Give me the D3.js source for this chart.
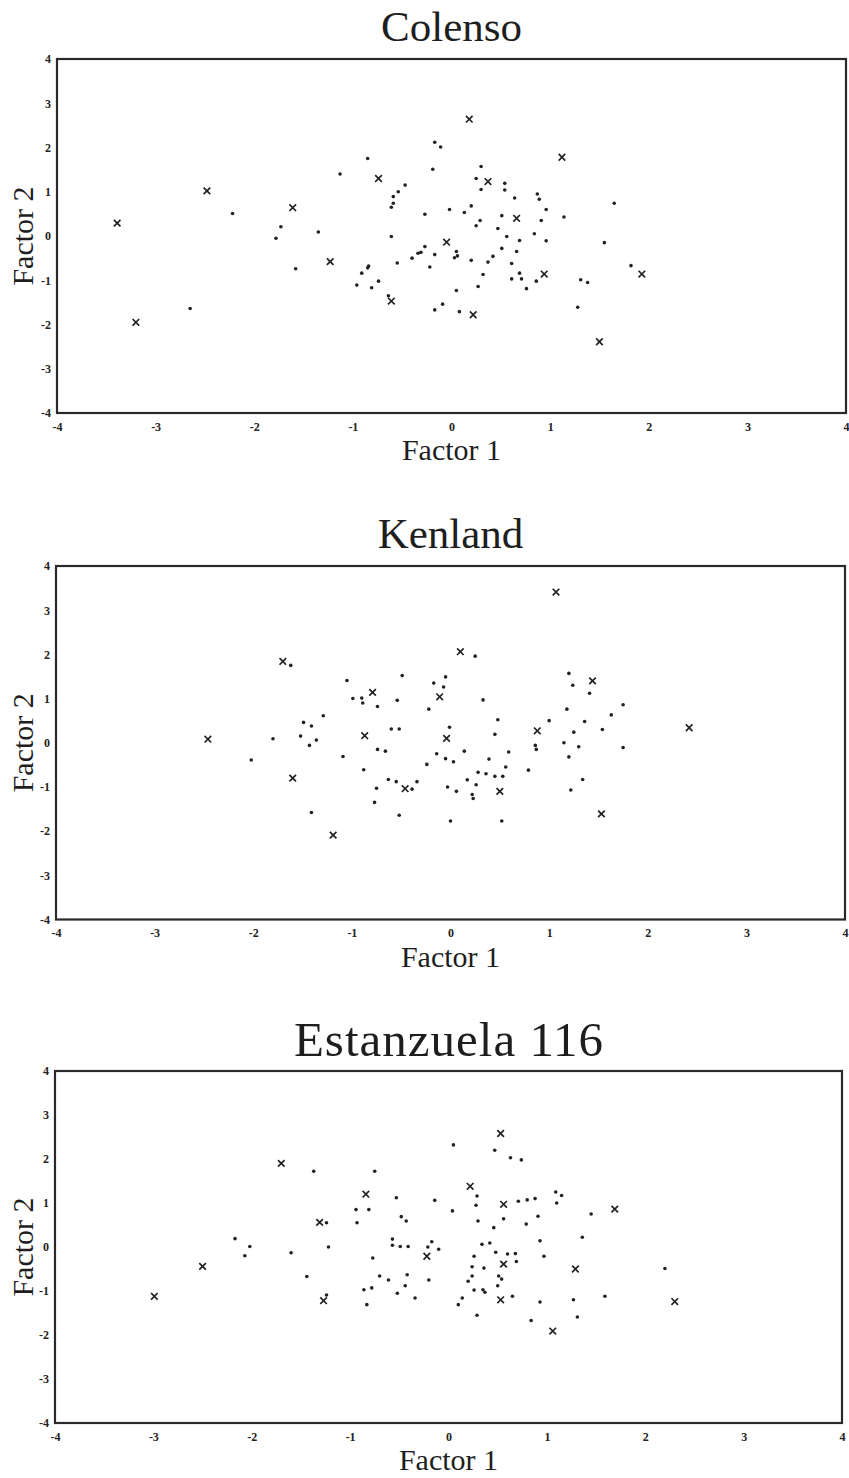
<!DOCTYPE html>
<html>
<head>
<meta charset="utf-8">
<script src="https://cdn.jsdelivr.net/npm/d3@7"></script>
<style>
  html, body { margin: 0; padding: 0; background: #fff; }
  svg { display: block; }
  .tick text { font-family: "Liberation Serif", "Times New Roman", serif; font-weight: bold; font-size: 12px; fill: #222; }
</style>
</head>
<body>
<svg id="chart" width="849" height="1478"></svg>
<script>
// ---------- DATA ----------
const panelTitles = ["Colenso", "Kenland", "Estanzuela 116"];
const xAxisLabel = "Factor 1";
const yAxisLabel = "Factor 2";
const tickValues = [-4, -3, -2, -1, 0, 1, 2, 3, 4];
const tickLabels = ["-4", "-3", "-2", "-1", "0", "1", "2", "3", "4"];

const colensoDots = [
  [-2.22,0.51],[-1.73,0.21],[-1.78,-0.05],[-2.65,-1.64],[-1.58,-0.74],[-1.35,0.09],[-1.13,1.40],[-0.85,1.75],
  [-0.61,0.65],[-0.59,0.74],[-0.59,0.89],[-0.54,1.00],[-0.47,1.15],[-0.61,-0.01],[-0.27,0.49],[-0.19,1.51],
  [-0.17,2.12],[-0.11,2.01],[-0.02,0.60],[0.13,0.53],[0.20,0.68],[0.30,1.57],[0.25,1.30],[0.30,1.05],
  [0.54,1.19],[0.54,1.04],[0.64,0.86],[0.29,0.35],[0.25,0.23],[0.51,0.46],[0.47,0.17],[0.56,-0.01],
  [0.87,0.95],[0.89,0.83],[0.96,0.60],[0.91,0.35],[0.84,0.05],[1.14,0.43],[1.65,0.74],[0.96,-0.11],
  [1.55,-0.15],[1.82,-0.67],[1.31,-0.99],[1.38,-1.05],[1.28,-1.61],
  [-0.27,-0.24],[-0.34,-0.39],[-0.31,-0.37],[-0.40,-0.50],[-0.17,-0.42],[0.05,-0.35],[0.03,-0.49],[0.06,-0.45],
  [0.20,-0.55],[-0.55,-0.61],[-0.22,-0.70],[-0.85,-0.72],[-0.84,-0.68],[-0.91,-0.84],[-0.74,-1.02],[-0.96,-1.11],
  [-0.81,-1.17],[-0.64,-1.35],[-0.09,-1.54],[-0.17,-1.67],[0.08,-1.71],[0.05,-1.23],[0.27,-1.14],[0.32,-0.87],
  [0.37,-0.59],[0.42,-0.46],[0.51,-0.28],[0.69,-0.10],[0.66,-0.35],[0.61,-0.62],[0.69,-0.84],[0.61,-0.97],
  [0.71,-0.97],[0.76,-1.19],[0.86,-1.02]
];
const colensoCrosses = [
  [-3.39,0.29],[-2.48,1.02],[-1.61,0.64],[-3.20,-1.95],[-0.74,1.30],[0.18,2.64],[0.37,1.23],[0.66,0.40],
  [1.12,1.78],[0.94,-0.86],[1.93,-0.86],[1.50,-2.39],[-1.23,-0.58],[-0.05,-0.14],[-0.61,-1.47],[0.22,-1.78]
];

const kenlandDots = [
  [-1.62,1.75],[-2.02,-0.39],[-1.80,0.09],[-1.49,0.46],[-1.41,0.38],[-1.29,0.61],[-1.52,0.15],[-1.43,-0.06],
  [-1.36,0.06],[-1.41,-1.58],[-1.05,1.41],[-0.99,1.00],[-0.90,1.01],[-0.89,0.90],[-0.74,0.82],[-1.09,-0.31],
  [-0.88,-0.61],[-0.74,-0.15],[-0.66,-0.19],[-0.60,0.31],[-0.52,0.31],[-0.54,0.96],[-0.49,1.52],[-0.75,-1.03],
  [-0.77,-1.35],[-0.63,-0.83],[-0.55,-0.88],[-0.39,-1.05],[-0.34,-0.88],[-0.52,-1.64],[-0.22,0.76],[-0.17,1.35],
  [-0.07,1.26],[-0.05,1.49],[-0.01,0.35],[-0.14,-0.25],[-0.05,-0.36],[-0.24,-0.49],[-0.03,-1.00],[0.00,-1.77],
  [0.25,1.96],[0.33,0.97],[0.03,-0.43],[0.14,-0.19],[0.06,-1.10],[0.17,-0.84],[0.26,-0.95],[0.22,-1.17],
  [0.23,-1.26],[0.28,-0.67],[0.36,-0.70],[0.45,-0.76],[0.53,-0.76],[0.39,-0.37],[0.52,-1.77],[0.56,-0.55],
  [0.59,-0.21],[0.45,0.19],[0.48,0.52],[0.79,-0.62],[0.86,-0.06],[0.87,-0.15],[1.00,0.50],[1.20,1.57],
  [1.24,1.30],[1.41,1.12],[1.18,0.76],[1.36,0.48],[1.25,0.24],[1.15,0.00],[1.30,-0.09],[1.20,-0.32],
  [1.34,-0.83],[1.22,-1.07],[1.54,0.30],[1.63,0.63],[1.75,0.86],[1.75,-0.11]
];
const kenlandCrosses = [
  [-2.46,0.08],[-1.70,1.84],[-1.60,-0.80],[-1.19,-2.09],[-0.79,1.14],[-0.87,0.16],[-0.46,-1.04],[-0.11,1.04],
  [-0.04,0.10],[1.07,3.41],[0.10,2.06],[0.50,-1.10],[0.88,0.27],[1.44,1.40],[1.53,-1.61],[2.42,0.34]
];

const estanzuelaDots = [
  [-2.17,0.19],[-2.02,0.01],[-2.07,-0.20],[-1.60,-0.13],[-1.44,-0.67],[-1.37,1.72],[-1.24,0.55],[-1.22,0.00],
  [-1.24,-1.09],[-0.94,0.85],[-0.93,0.55],[-0.81,0.85],[-0.75,1.72],[-0.77,-0.25],[-0.86,-0.97],[-0.78,-0.93],
  [-0.83,-1.31],[-0.70,-0.66],[-0.61,-0.75],[-0.53,1.12],[-0.48,0.69],[-0.43,0.59],[-0.57,0.18],[-0.57,0.04],
  [-0.49,0.01],[-0.41,0.01],[-0.42,-0.63],[-0.44,-0.88],[-0.52,-1.05],[-0.34,-1.16],[-0.21,0.00],[-0.17,0.12],
  [-0.10,-0.05],[-0.20,-0.75],[-0.14,1.06],
  [0.04,0.82],[0.05,2.32],[0.47,2.20],[0.63,2.03],[0.74,1.98],[0.29,1.16],[0.28,0.95],[0.30,0.59],
  [0.56,0.64],[0.46,0.44],[0.71,1.04],[0.80,1.07],[0.88,1.10],[0.79,0.52],[0.91,0.70],[1.09,1.25],
  [1.15,1.17],[1.10,1.00],[1.45,0.75],[1.36,0.22],[0.93,0.14],[0.97,-0.21],[0.34,0.06],[0.42,0.09],
  [0.48,-0.12],[0.60,-0.16],[0.68,-0.15],[0.69,-0.33],[0.26,-0.21],[0.24,-0.45],[0.36,-0.48],[0.24,-0.66],
  [0.20,-0.78],[0.26,-0.98],[0.35,-0.97],[0.37,-1.03],[0.51,-0.66],[0.54,-0.73],[0.50,-0.88],[0.65,-1.12],
  [0.14,-1.16],[0.10,-1.31],[0.29,-1.55],[0.84,-1.67],[0.93,-1.25],[1.27,-1.20],[1.31,-1.59],[1.59,-1.12],
  [2.20,-0.49]
];
const estanzuelaCrosses = [
  [-2.99,-1.12],[-2.50,-0.44],[-1.70,1.90],[-1.31,0.56],[-1.27,-1.22],[-0.84,1.20],[-0.22,-0.21],[0.53,2.58],
  [0.22,1.38],[0.56,0.97],[1.69,0.86],[0.56,-0.39],[0.53,-1.20],[1.06,-1.91],[1.29,-0.50],[2.30,-1.24]
];

// ---------- LAYOUT ----------
const panels = [
  { title: panelTitles[0], fs: 43, spacing: 0, gap: 18, dots: colensoDots, crosses: colensoCrosses, left: 57, right: 846, top: 59, bottom: 413 },
  { title: panelTitles[1], fs: 43, spacing: 0, gap: 18, dots: kenlandDots, crosses: kenlandCrosses, left: 56, right: 845, top: 566, bottom: 919.5 },
  { title: panelTitles[2], fs: 49, spacing: 1, gap: 15, dots: estanzuelaDots, crosses: estanzuelaCrosses, left: 55, right: 842, top: 1071, bottom: 1423 }
];

const svg = d3.select("#chart");
svg.append("rect").attr("width", 849).attr("height", 1478).attr("fill", "#fff");

const serif = '"Liberation Serif", "Times New Roman", serif';
const ink = "#1e1e1e";
const fmt = d => tickLabels[tickValues.indexOf(d)];

panels.forEach(p => {
  const x = d3.scaleLinear().domain([-4, 4]).range([p.left, p.right]);
  const y = d3.scaleLinear().domain([-4, 4]).range([p.bottom, p.top]);
  const g = svg.append("g");

  // title
  g.append("text")
    .attr("x", (p.left + p.right) / 2 + p.spacing / 2)
    .attr("y", p.top - p.gap)
    .attr("text-anchor", "middle")
    .attr("font-family", serif)
    .attr("font-size", p.fs)
    .attr("letter-spacing", p.spacing)
    .attr("fill", ink)
    .text(p.title);

  // x axis tick labels
  const xAxis = d3.axisBottom(x).tickValues(tickValues).tickSize(0).tickPadding(9).tickFormat(fmt);
  const gx = g.append("g").attr("transform", `translate(0,${p.bottom})`).call(xAxis);
  gx.select(".domain").remove();

  // y axis tick labels
  const yAxis = d3.axisLeft(y).tickValues(tickValues).tickSize(0).tickPadding(6).tickFormat(fmt);
  const gy = g.append("g").attr("transform", `translate(${p.left},0)`).call(yAxis);
  gy.select(".domain").remove();

  // frame
  g.append("rect")
    .attr("x", x(-4)).attr("y", y(4))
    .attr("width", x(4) - x(-4)).attr("height", y(-4) - y(4))
    .attr("fill", "none").attr("stroke", "#2a2a2a").attr("stroke-width", 2.2);

  // axis labels
  g.append("text")
    .attr("x", x(0))
    .attr("y", p.bottom + 47)
    .attr("text-anchor", "middle")
    .attr("font-family", serif)
    .attr("font-size", 30)
    .attr("fill", ink)
    .text(xAxisLabel);

  g.append("text")
    .attr("transform", `translate(33,${y(0)}) rotate(-90)`)
    .attr("text-anchor", "middle")
    .attr("font-family", serif)
    .attr("font-size", 30)
    .attr("fill", ink)
    .text(yAxisLabel);

  // dots
  g.append("g").selectAll("circle").data(p.dots).join("circle")
    .attr("cx", d => x(d[0]))
    .attr("cy", d => y(d[1]))
    .attr("r", 1.8)
    .attr("fill", "#222");

  // crosses
  const s = 3.3;
  g.append("g").selectAll("path").data(p.crosses).join("path")
    .attr("d", d => {
      const cx = x(d[0]), cy = y(d[1]);
      return `M${cx - s},${cy - s}L${cx + s},${cy + s}M${cx - s},${cy + s}L${cx + s},${cy - s}`;
    })
    .attr("stroke", "#222")
    .attr("stroke-width", 1.7)
    .attr("fill", "none");
});
</script>
</body>
</html>
